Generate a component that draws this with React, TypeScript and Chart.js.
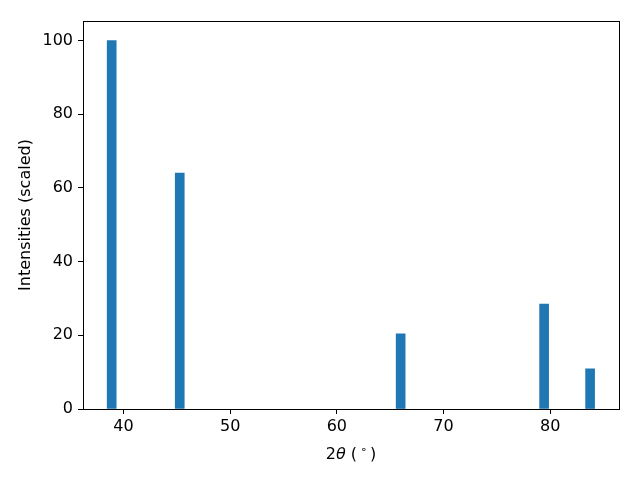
import React, { useEffect, useRef } from "react";
import { Chart, registerables } from "chart.js";

Chart.register(...registerables);

const peakPositions: number[] = [38.89, 45.27, 65.98, 79.43, 83.74];
const peakIntensities: number[] = [100, 64, 20.4, 28.5, 10.9];
const xTicks: number[] = [40, 50, 60, 70, 80];
const yTicks: number[] = [0, 20, 40, 60, 80, 100];
const xTitleParts: { text: string; italic?: boolean; sup?: boolean }[] = [
  { text: "2" },
  { text: "θ", italic: true },
  { text: " (" },
  { text: "∘", sup: true },
  { text: ")" },
];

const FONT = "'DejaVu Sans', sans-serif";

const framePlugin = {
  id: "frame",
  afterDraw(chart: any) {
    const { ctx, chartArea } = chart;
    ctx.save();
    ctx.strokeStyle = "#000";
    ctx.lineWidth = 1;
    ctx.strokeRect(
      Math.round(chartArea.left) + 0.5,
      Math.round(chartArea.top) + 0.5,
      Math.round(chartArea.right - chartArea.left),
      Math.round(chartArea.bottom - chartArea.top)
    );
    // x axis title with italic theta and superscript degree
    const size = 16;
    const fontFor = (p: any) =>
      `${p.italic ? "italic " : ""}${p.sup ? Math.round(size * 0.7) : size}px ${FONT}`;
    const gap = (p: any) => (p.sup ? 3 : 0);
    let total = 0;
    xTitleParts.forEach((p) => {
      ctx.font = fontFor(p);
      total += ctx.measureText(p.text).width + gap(p) * 2;
    });
    let x = (chartArea.left + chartArea.right) / 2 - total / 2;
    const baseY = chart.scales.x.bottom - 21;
    ctx.fillStyle = "#000";
    ctx.textBaseline = "alphabetic";
    ctx.textAlign = "left";
    xTitleParts.forEach((p) => {
      ctx.font = fontFor(p);
      x += gap(p);
      ctx.fillText(p.text, x, p.sup ? baseY - 6 : baseY);
      x += ctx.measureText(p.text).width + gap(p);
    });
    ctx.restore();
  },
};

export default function App() {
  const ref = useRef<HTMLCanvasElement | null>(null);
  useEffect(() => {
    document.body.style.margin = "0";
    const canvas = ref.current!;
    const chart = new Chart(canvas, {
      type: "bar",
      data: {
        datasets: [
          {
            data: peakPositions.map((x, i) => ({ x, y: peakIntensities[i] })),
            backgroundColor: "#1f77b4",
            borderWidth: 0,
            barThickness: 9,
          },
        ],
      },
      options: {
        animation: false,
        responsive: false,
        maintainAspectRatio: false,
        layout: { padding: { top: 21, right: 21, left: 0, bottom: 0 } },
        plugins: { legend: { display: false }, tooltip: { enabled: false } },
        scales: {
          x: {
            type: "linear",
            min: 36.2,
            max: 86.45,
            offset: false,
            afterBuildTicks: (s: any) => {
              s.ticks = xTicks.map((v) => ({ value: v }));
            },
            afterFit: (s: any) => {
              s.height = 71;
            },
            grid: {
              offset: false,
              drawOnChartArea: false,
              drawTicks: true,
              tickLength: 5,
              tickColor: "#000",
              color: "#000",
            },
            border: { display: false },
            ticks: {
              color: "#000",
              font: { family: FONT, size: 16 },
              padding: 3,
              maxRotation: 0,
            },
            title: { display: false },
          },
          y: {
            min: 0,
            max: 105.3,
            afterBuildTicks: (s: any) => {
              s.ticks = yTicks.map((v) => ({ value: v }));
            },
            afterFit: (s: any) => {
              s.width = 83;
            },
            grid: {
              offset: false,
              drawOnChartArea: false,
              drawTicks: true,
              tickLength: 5,
              tickColor: "#000",
              color: "#000",
            },
            border: { display: false },
            ticks: {
              color: "#000",
              font: { family: FONT, size: 16 },
              padding: 5,
            },
            title: {
              display: true,
              text: "Intensities (scaled)",
              color: "#000",
              font: { family: FONT, size: 16 },
              padding: { top: 16, bottom: 6 },
            },
          },
        },
      },
      plugins: [framePlugin],
    });
    return () => chart.destroy();
  }, []);
  return (
    <div style={{ width: 640, height: 480, background: "#fff" }}>
      <canvas ref={ref} width={640} height={480} />
    </div>
  );
}
